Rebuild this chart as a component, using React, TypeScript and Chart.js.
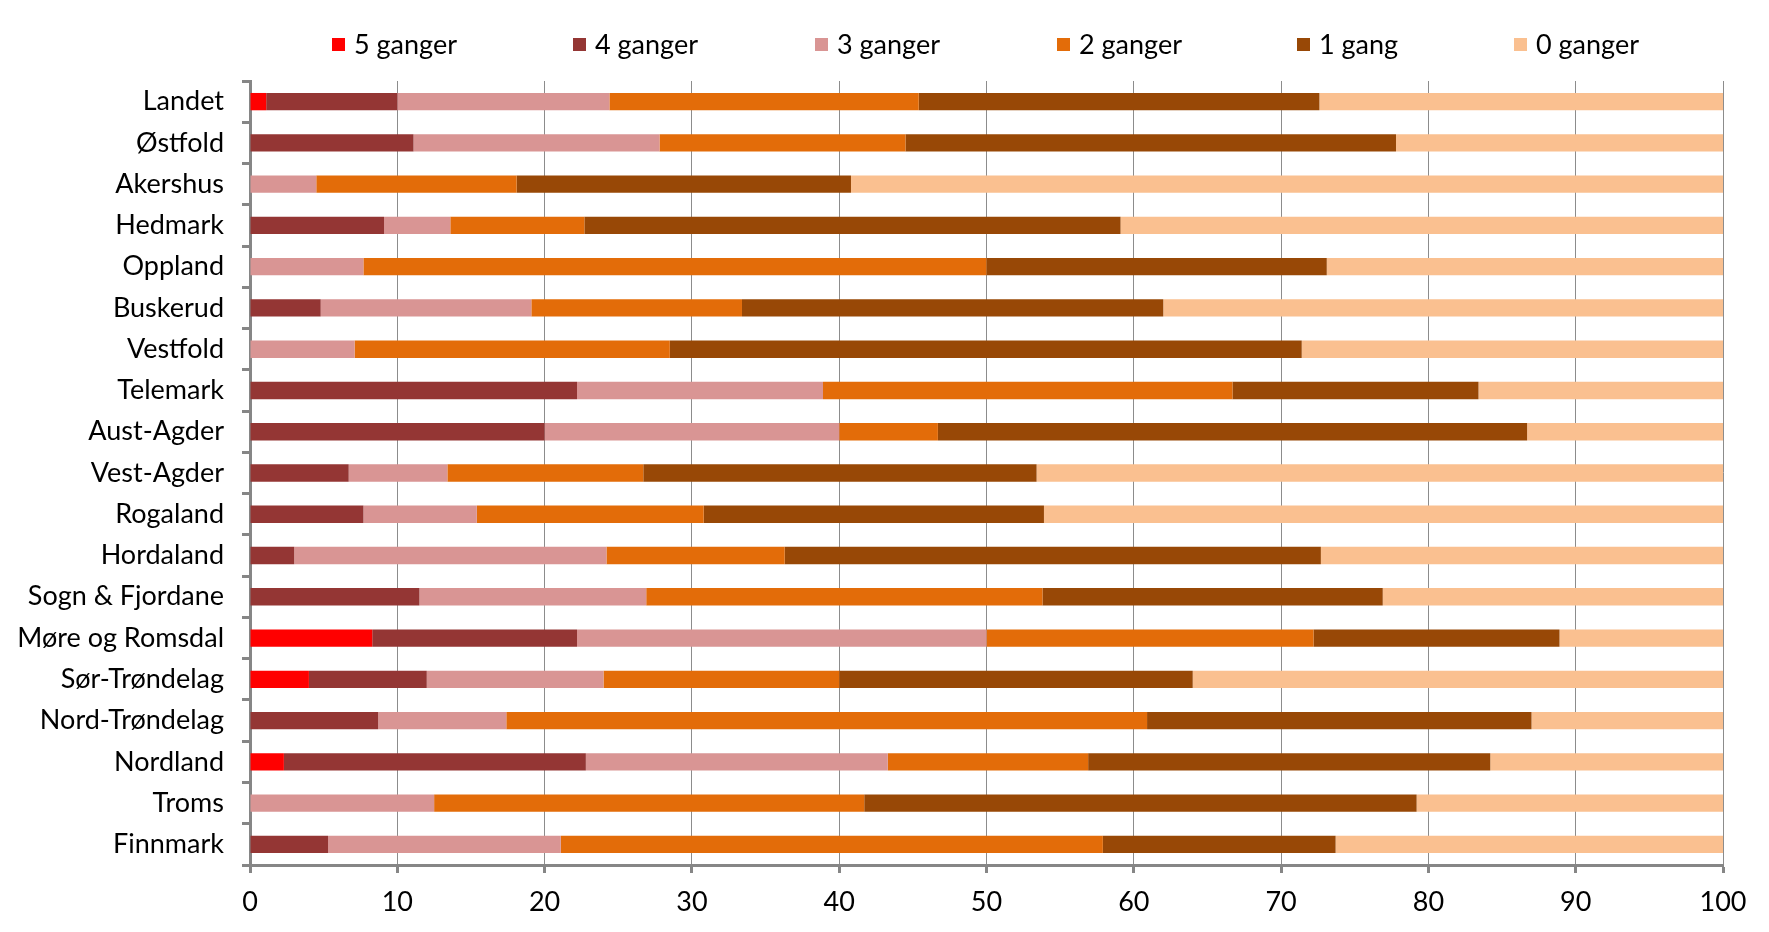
import React, { useEffect, useRef } from "react";
import { Chart, registerables } from "chart.js";

Chart.register(...registerables);

const categories = [
  "Landet", "Østfold", "Akershus", "Hedmark", "Oppland", "Buskerud", "Vestfold",
  "Telemark", "Aust-Agder", "Vest-Agder", "Rogaland", "Hordaland", "Sogn & Fjordane",
  "Møre og Romsdal", "Sør-Trøndelag", "Nord-Trøndelag", "Nordland", "Troms", "Finnmark",
];

const seriesLabels = ["5 ganger", "4 ganger", "3 ganger", "2 ganger", "1 gang", "0 ganger"];

const ganger5 = [1.1, 0, 0, 0, 0, 0, 0, 0, 0, 0, 0, 0, 0, 8.3, 4.0, 0, 2.3, 0, 0];
const ganger4 = [8.9, 11.1, 0, 9.1, 0, 4.8, 0, 22.2, 20.0, 6.7, 7.7, 3.0, 11.5, 13.9, 8.0, 8.7, 20.5, 0, 5.3];
const ganger3 = [14.4, 16.7, 4.5, 4.5, 7.7, 14.3, 7.1, 16.7, 20.0, 6.7, 7.7, 21.2, 15.4, 27.8, 12.0, 8.7, 20.5, 12.5, 15.8];
const ganger2 = [21.0, 16.7, 13.6, 9.1, 42.3, 14.3, 21.4, 27.8, 6.7, 13.3, 15.4, 12.1, 26.9, 22.2, 16.0, 43.5, 13.6, 29.2, 36.8];
const gang1 = [27.2, 33.3, 22.7, 36.4, 23.1, 28.6, 42.9, 16.7, 40.0, 26.7, 23.1, 36.4, 23.1, 16.7, 24.0, 26.1, 27.3, 37.5, 15.8];
const ganger0 = [27.4, 22.2, 59.2, 40.9, 26.9, 38.1, 28.6, 16.7, 13.3, 46.7, 46.2, 27.3, 23.1, 11.1, 36.0, 13.0, 15.9, 20.8, 26.3];

const seriesValues = [ganger5, ganger4, ganger3, ganger2, gang1, ganger0];
const seriesColors = ["#FF0000", "#943634", "#D99594", "#E36C09", "#984806", "#FAC090"];

const FONT = "Lato, 'Open Sans', sans-serif";
const FONT_SIZE = 27;

const legendPlugin = {
  id: "customLegend",
  afterDraw(chart: any) {
    const ctx = chart.ctx;
    const xs = [332, 573, 815, 1057, 1297, 1514];
    const y = 45;
    ctx.save();
    ctx.font = `${FONT_SIZE}px ${FONT}`;
    ctx.textBaseline = "middle";
    ctx.textAlign = "left";
    chart.data.datasets.forEach((ds: any, i: number) => {
      ctx.fillStyle = ds.backgroundColor;
      ctx.fillRect(xs[i], y - 7, 13, 13);
      ctx.fillStyle = "#000";
      ctx.fillText(ds.label, xs[i] + 22, y);
    });
    ctx.restore();
  },
};

export default function App() {
  const ref = useRef<HTMLCanvasElement | null>(null);
  useEffect(() => {
    if (!ref.current) return;
    const chart = new Chart(ref.current, {
      type: "bar",
      data: {
        labels: categories,
        datasets: seriesLabels.map((label, i) => ({
          label,
          data: seriesValues[i],
          backgroundColor: seriesColors[i],
          borderWidth: 0,
          barPercentage: 0.42,
          categoryPercentage: 1,
        })),
      },
      options: {
        indexAxis: "y",
        animation: false,
        responsive: true,
        maintainAspectRatio: false,
        layout: { padding: { top: 81, right: 46, bottom: 0, left: 0 } },
        plugins: {
          legend: { display: false },
          tooltip: { enabled: false },
        },
        scales: {
          x: {
            stacked: true,
            min: 0,
            max: 100,
            ticks: {
              stepSize: 10,
              color: "#000",
              font: { family: FONT, size: FONT_SIZE },
              padding: 13,
            },
            grid: {
              color: "#8c8c8c",
              lineWidth: 1,
              tickColor: "#868686",
              tickWidth: 3,
              tickLength: 8,
            },
            border: { color: "#868686", width: 3 },
            afterFit(scale: any) {
              scale.height = 67;
            },
          },
          y: {
            stacked: true,
            ticks: {
              color: "#000",
              font: { family: FONT, size: FONT_SIZE },
              padding: 18,
              autoSkip: false,
            },
            grid: {
              offset: true,
              drawOnChartArea: false,
              tickColor: "#868686",
              tickWidth: 3,
              tickLength: 8,
            },
            border: { color: "#868686", width: 3 },
            afterFit(scale: any) {
              scale.width = 250;
            },
          },
        },
      },
      plugins: [legendPlugin],
    });
    return () => chart.destroy();
  }, []);
  return (
    <div style={{ position: "absolute", left: 0, top: 0, width: 1769, height: 932 }}>
      <canvas ref={ref} />
    </div>
  );
}
